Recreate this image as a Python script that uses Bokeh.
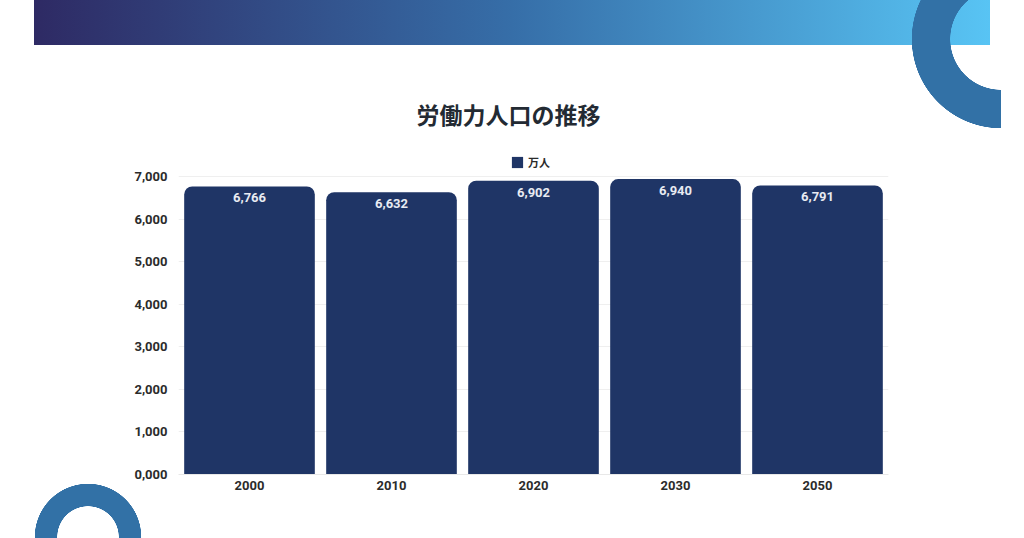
import math
from bokeh.plotting import figure
from bokeh.models import (ColumnDataSource, Range1d, FactorRange, FixedTicker, LabelSet,
                          Legend, LegendItem, Title)
from bokeh.core.properties import value
from bokeh.embed import file_html
from bokeh.resources import INLINE

# ---- data ----
years = ["2000", "2010", "2020", "2030", "2050"]
workers = [6766, 6632, 6902, 6940, 6791]
value_labels = ["6,766", "6,632", "6,902", "6,940", "6,791"]
y_ticks = [0, 1000, 2000, 3000, 4000, 5000, 6000, 7000]
y_tick_labels = ["0,000", "1,000", "2,000", "3,000", "4,000", "5,000", "6,000", "7,000"]
series_name = "万人"
title_text = "労働力人口の推移"

BAR = "#1f3566"
RING = "#3271a6"

W, H = 1024, 538
FL, FR, FT, FB = 178, 888, 150, 474   # frame edges in page pixels
Y7000 = 176                            # page y of the 7,000 gridline
y_top = 7000 * (FB - FT) / (FB - Y7000)

# CSS backdrop for the decorative shapes (shows through the transparent border)
css_bg = ", ".join([
    f"radial-gradient(circle at 1001px 39px, transparent 50.5px, {RING} 51px, {RING} 89px, transparent 89.5px) 0 0 / 1001px 538px no-repeat",
    f"radial-gradient(circle at 88px 537px, transparent 30.5px, {RING} 31px, {RING} 53px, transparent 53.5px) 0 0 / 1024px 538px no-repeat",
    "linear-gradient(to right, #2e2a64, #366ea8 50%, #58c4f4) 34px 0 / 956px 45px no-repeat",
])

p = figure(width=W, height=H, x_range=FactorRange(factors=years), y_range=Range1d(0, y_top),
           output_backend="svg", toolbar_location=None,
           min_border_left=FL, min_border_right=W - FR, min_border_top=FT,
           min_border_bottom=H - FB, styles={"background": css_bg + ", white"})
p.outline_line_color = None
p.background_fill_color = "white"
p.border_fill_color = None

p.title = Title(text=title_text, align="left", offset=238, standoff=39,
                text_font="Noto Sans CJK JP", text_font_style="bold",
                text_font_size="23px", text_color="#232a33")

# pixel range on y for decorations
p.extra_y_ranges = {"py": Range1d(FB, FT)}

def px(x):
    # page pixel -> synthetic categorical coordinate
    return (x - FL) / (FR - FL) * len(years)

src = ColumnDataSource(dict(x=years, top=workers, lab=value_labels))
r = p.vbar(x="x", top="top", width=0.92, source=src, fill_color=BAR, line_color=None,
           border_radius=(8, 8, 0, 0))

p.add_layout(LabelSet(x="x", y="top", text="lab", source=src, y_offset=-7,
                      text_align="center", text_baseline="top", text_color="#e8ebf2",
                      text_font=value("Roboto"), text_font_style="bold", text_font_size="13px"))

# axes
p.yaxis.ticker = FixedTicker(ticks=y_ticks)
p.yaxis.major_label_overrides = {t: l for t, l in zip(y_ticks, y_tick_labels)}
p.yaxis.axis_line_color = None
p.yaxis.major_tick_line_color = None
p.yaxis.minor_tick_line_color = None
p.yaxis.major_label_standoff = 5
p.xaxis.axis_line_color = "#e8e8e8"
p.xaxis.major_tick_line_color = None
p.xaxis.major_label_standoff = 0
for ax in (p.xaxis, p.yaxis):
    ax.major_label_text_font = "Roboto"
    ax.major_label_text_font_style = "bold"
    ax.major_label_text_font_size = "13px"
    ax.major_label_text_color = "#2b2b2b"
p.xgrid.grid_line_color = None
p.ygrid.grid_line_color = "#efefef"

# legend (inside the frame's top strip)
legend = Legend(items=[LegendItem(label=series_name, renderers=[r])], location=(332, 304),
                orientation="horizontal", padding=0, margin=0, spacing=0,
                glyph_width=14, glyph_height=14, label_standoff=4,
                label_text_font="Noto Sans CJK JP", label_text_font_style="bold",
                label_text_font_size="11px", label_text_color="#2b2b2b",
                border_line_alpha=0, background_fill_alpha=0, label_height=14)
p.add_layout(legend)

# ---- ring decorations as glyphs too (drawn only where the frame allows) ----
def ring(cx, cy, R, rr, a0, a1, m=90):
    xs, ys = [], []
    for k in range(m + 1):
        a = math.radians(a0 + (a1 - a0) * k / m)
        xs.append(px(cx + R * math.cos(a)))
        ys.append(cy - R * math.sin(a))
    for k in range(m, -1, -1):
        a = math.radians(a0 + (a1 - a0) * k / m)
        xs.append(px(cx + rr * math.cos(a)))
        ys.append(cy - rr * math.sin(a))
    return xs, ys

rx1, ry1 = ring(1001, 39, 89, 51, 90, 270)
rx2, ry2 = ring(88, 537, 53, 31, -10, 190)
p.patches(xs=[rx1, rx2], ys=[ry1, ry2], fill_color=RING, line_color=None,
          y_range_name="py", level="overlay")

open("out.html", "w").write(file_html(p, INLINE))
